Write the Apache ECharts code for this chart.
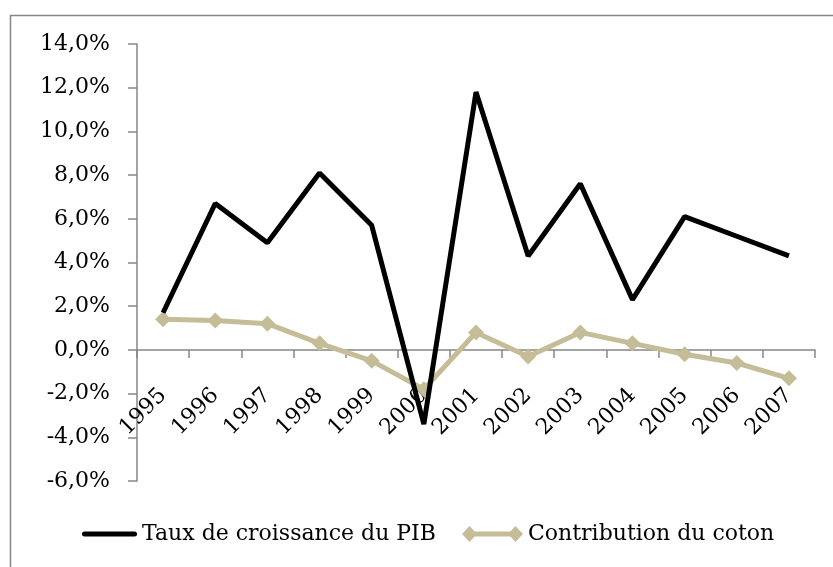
<!DOCTYPE html>
<html>
<head>
<meta charset="UTF-8">
<title>PIB et coton</title>
<script src="https://cdn.jsdelivr.net/npm/echarts@6/dist/echarts.min.js"></script>
<style>
  html, body { margin: 0; padding: 0; background: #fff; }
  #chart { width: 833px; height: 567px; }
</style>
</head>
<body>
<div id="chart"></div>
<script>
var years = ['1995', '1996', '1997', '1998', '1999', '2000', '2001', '2002', '2003', '2004', '2005', '2006', '2007'];
// taux de croissance du PIB (%)
var pib = [1.7, 6.7, 4.9, 8.1, 5.7, -3.4, 11.8, 4.3, 7.6, 2.3, 6.1, 5.2, 4.3];
// contribution du coton (%)
var coton = [1.4, 1.35, 1.2, 0.3, -0.5, -1.8, 0.8, -0.3, 0.8, 0.3, -0.2, -0.6, -1.3];
var seriesNames = ['Taux de croissance du PIB', 'Contribution du coton'];

var font = 'DejaVu Serif';
var axisGray = '#868686';
var tan = '#C4BD97';

var chart = echarts.init(document.getElementById('chart'));

function pct(v) {
    return v.toFixed(1).replace('.', ',') + '%';
}

// legend icons drawn like the office ones: plain bar, and bar with a diamond at each end
var iconPib = 'path://M2.5,0 L52.5,0 A2.5,2.5 0 0 1 52.5,5 L2.5,5 A2.5,2.5 0 0 1 2.5,0 Z';
var iconCoton = 'path://M0,8 L7.5,0 L15,8 L7.5,16 Z M7,5.5 L54,5.5 L54,10.5 L7,10.5 Z M46,8 L53.5,0 L61,8 L53.5,16 Z';

var legendText = { fontFamily: font, fontSize: 22, color: '#000' };

var option = {
    animation: false,
    backgroundColor: '#fff',
    textStyle: { fontFamily: font, color: '#000' },
    graphic: [{
        type: 'rect',
        shape: { x: 10.5, y: 15.5, width: 900, height: 700 },
        style: { fill: 'none', stroke: axisGray, lineWidth: 1.5 },
        silent: true
    }],
    grid: [
        { left: 137, right: 18, top: 44, bottom: 86 },
        // only used to place the year labels under the zero line
        { left: 137, right: 18, top: 44, bottom: 217 }
    ],
    legend: [
        {
            left: 82, top: 523, padding: 0,
            itemWidth: 55, itemHeight: 5,
            textStyle: legendText,
            data: [{ name: seriesNames[0], icon: iconPib }]
        },
        {
            left: 462, top: 523, padding: 0,
            itemWidth: 61, itemHeight: 16,
            textStyle: legendText,
            data: [{ name: seriesNames[1], icon: iconCoton }]
        }
    ],
    xAxis: [
        {
            type: 'category',
            gridIndex: 0,
            data: years,
            boundaryGap: true,
            axisLine: { onZero: true, lineStyle: { color: axisGray, width: 1.5 } },
            axisTick: { show: true, length: 8, lineStyle: { color: axisGray, width: 1.5 } },
            axisLabel: { show: false },
            splitLine: { show: false }
        },
        {
            type: 'category',
            gridIndex: 1,
            data: years,
            boundaryGap: true,
            axisLine: { show: false },
            axisTick: { show: false },
            axisLabel: { rotate: 45, margin: 42, interval: 0, fontFamily: font, fontSize: 22, color: '#000' },
            splitLine: { show: false }
        }
    ],
    yAxis: [
        {
            type: 'value',
            gridIndex: 0,
            min: -6,
            max: 14,
            interval: 2,
            axisLine: { show: true, lineStyle: { color: axisGray, width: 1.5 } },
            axisTick: { show: true, length: 9, lineStyle: { color: axisGray, width: 1.5 } },
            axisLabel: { formatter: pct, margin: 27, fontFamily: font, fontSize: 22, color: '#000' },
            splitLine: { show: false }
        },
        {
            type: 'value',
            gridIndex: 1,
            show: false
        }
    ],
    series: [
        {
            name: seriesNames[0],
            type: 'line',
            data: pib,
            symbol: 'none',
            lineStyle: { color: '#000', width: 5 },
            itemStyle: { color: '#000' },
            z: 5
        },
        {
            name: seriesNames[1],
            type: 'line',
            data: coton,
            symbol: 'diamond',
            symbolSize: 16,
            lineStyle: { color: tan, width: 5 },
            itemStyle: { color: tan },
            z: 4
        }
    ]
};

chart.setOption(option);
</script>
</body>
</html>
